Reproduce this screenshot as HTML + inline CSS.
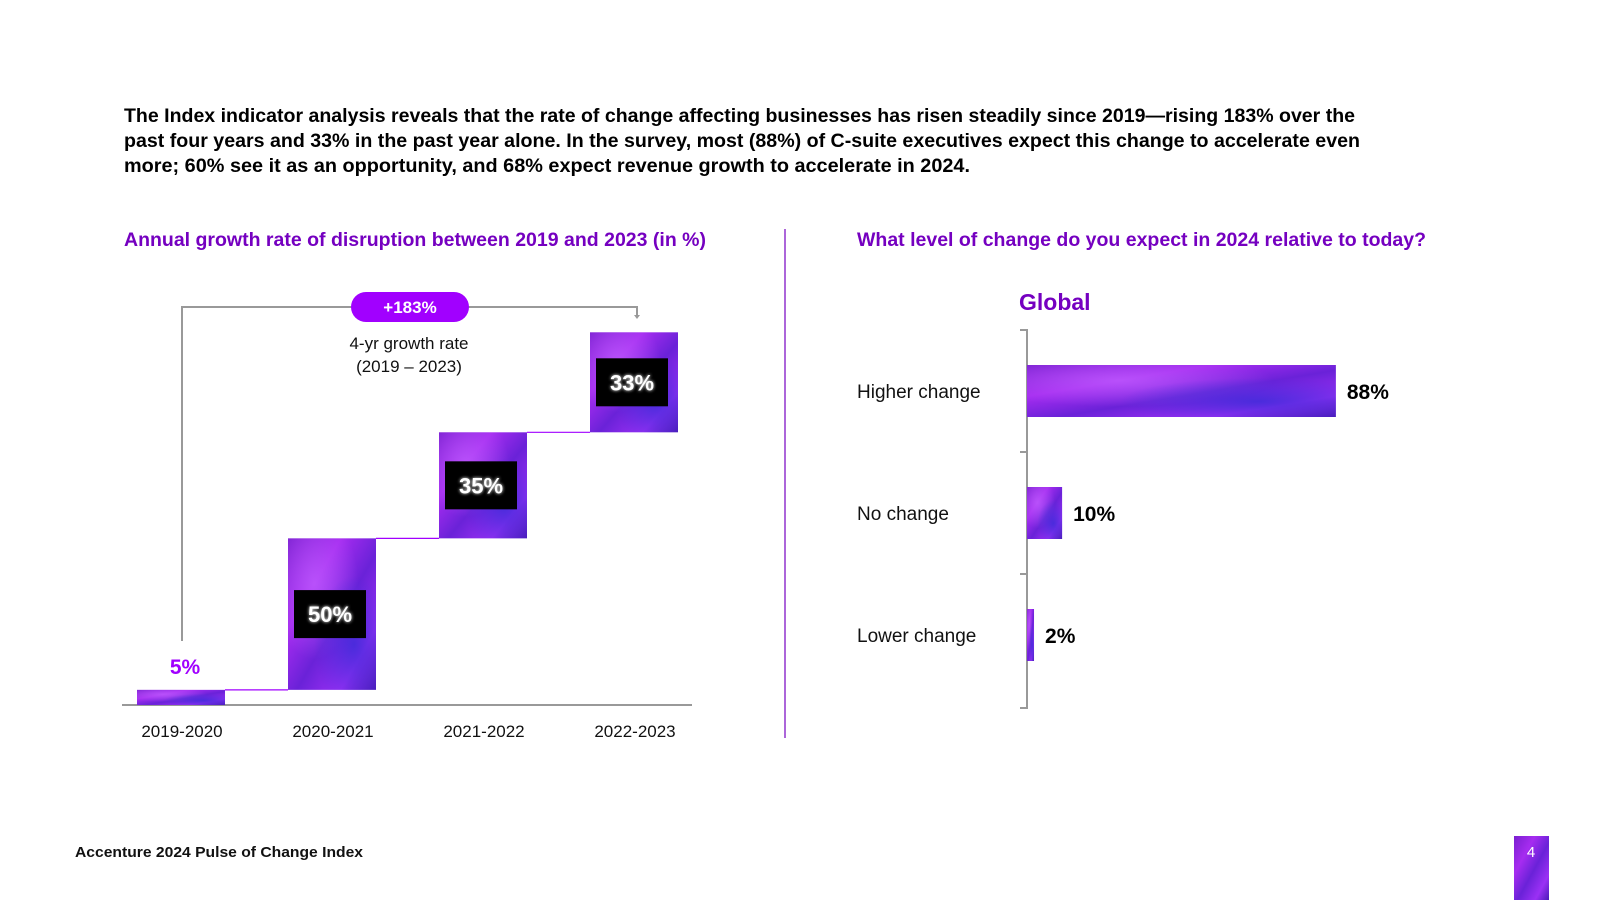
<!DOCTYPE html>
<html><head><meta charset="utf-8"><style>
html,body{margin:0;padding:0;background:#fff;}
svg{display:block;font-family:"Liberation Sans",sans-serif;}
</style></head><body>
<svg id="page" width="1600" height="900" viewBox="0 0 1600 900" xmlns="http://www.w3.org/2000/svg">
<defs>
<linearGradient id="purp" x1="0" y1="0" x2="1" y2="1">
<stop offset="0" stop-color="#7a1fd0"/><stop offset="0.3" stop-color="#a62cf0"/><stop offset="0.55" stop-color="#6a22d8"/><stop offset="0.8" stop-color="#9b30f5"/><stop offset="1" stop-color="#4a1cb8"/>
</linearGradient>
<radialGradient id="blob1" cx="0.3" cy="0.3" r="0.5"><stop offset="0" stop-color="#c060ff" stop-opacity="0.7"/><stop offset="1" stop-color="#c060ff" stop-opacity="0"/></radialGradient>
<radialGradient id="blob2" cx="0.75" cy="0.7" r="0.45"><stop offset="0" stop-color="#3a2bd8" stop-opacity="0.8"/><stop offset="1" stop-color="#3a2bd8" stop-opacity="0"/></radialGradient>
<filter id="glow" x="-30%" y="-30%" width="160%" height="160%"><feGaussianBlur stdDeviation="1.5" result="b"/><feMerge><feMergeNode in="b"/><feMergeNode in="SourceGraphic"/></feMerge></filter>
</defs>

<g font-weight="bold" font-size="19" fill="#000">
<text x="124" y="122" textLength="1231" lengthAdjust="spacingAndGlyphs">The Index indicator analysis reveals that the rate of change affecting businesses has risen steadily since 2019—rising 183% over the</text>
<text x="124" y="147" textLength="1236" lengthAdjust="spacingAndGlyphs">past four years and 33% in the past year alone. In the survey, most (88%) of C-suite executives expect this change to accelerate even</text>
<text x="124" y="172" textLength="846" lengthAdjust="spacingAndGlyphs">more; 60% see it as an opportunity, and 68% expect revenue growth to accelerate in 2024.</text>
</g>

<text x="124" y="246" font-size="19" font-weight="bold" fill="#7500c0" textLength="582" lengthAdjust="spacingAndGlyphs">Annual growth rate of disruption between 2019 and 2023 (in %)</text>
<text x="857" y="246" font-size="19" font-weight="bold" fill="#7500c0" textLength="569" lengthAdjust="spacingAndGlyphs">What level of change do you expect in 2024 relative to today?</text>
<line x1="785" y1="229" x2="785" y2="738" stroke="#7500c0" stroke-width="1.2"/>

<g id="wf"></g>
<g id="hb"></g>

<text x="75" y="857" font-size="15" font-weight="bold" fill="#111" textLength="288" lengthAdjust="spacingAndGlyphs">Accenture 2024 Pulse of Change Index</text>
<rect x="1514" y="836" width="35" height="64" fill="url(#purp)"/>
<text x="1531" y="857" font-size="15" fill="#fff" text-anchor="middle">4</text>
</svg>
<script>
const NS='http://www.w3.org/2000/svg';
const wfCategories=['2019-2020','2020-2021','2021-2022','2022-2023'];
const wfValues=[5,50,35,33];
const wfLabels=['5%','50%','35%','33%'];
const wfTotalLabel='+183%';
const hbCategories=['Higher change','No change','Lower change'];
const hbValues=[88,10,2];
const hbLabels=['88%','10%','2%'];

function mk(tag,attrs,parent){const e=document.createElementNS(NS,tag);for(const k in attrs)e.setAttribute(k,attrs[k]);parent.appendChild(e);return e;}
function fillBar(g,x,y,w,h){
  mk('rect',{x:x,y:y,width:w,height:h,fill:'url(#purp)'},g);
  mk('rect',{x:x,y:y,width:w,height:h,fill:'url(#blob1)'},g);
  mk('rect',{x:x,y:y,width:w,height:h,fill:'url(#blob2)'},g);
}

// Waterfall
const wf=document.getElementById('wf');
const baseY=705, pxPer=3.03, colX0=137, colStep=151, colW=88;
const xw=i=>colX0+i*colStep;
const yv=v=>baseY-v*pxPer;
let ax=mk('line',{x1:122,y1:baseY,x2:692,y2:baseY,stroke:'#999','stroke-width':2},wf);


let cum=0;
wfValues.forEach((v,i)=>{
  const y0=yv(cum), y1=yv(cum+v);
  const g=mk('g',{},wf);
  
  
  fillBar(g,xw(i),y1,colW,y0-y1);
  if(i<wfValues.length-1){
    const c=mk('line',{x1:xw(i)+colW,y1:y1,x2:xw(i+1),y2:y1,stroke:'#a100ff','stroke-width':1.2},wf);
    
    
  }
  if(i===0){
    const t=mk('text',{x:xw(i)+48,y:y1-16,'font-size':21,'font-weight':'bold',fill:'#a100ff','text-anchor':'middle'},wf);
    t.textContent=wfLabels[i];
    
    
  } else {
    const cy=(y0+y1)/2;
    const b=mk('rect',{x:xw(i)+6,y:cy-24,width:72,height:48,fill:'#000'},wf);
    
    
    const t=mk('text',{x:xw(i)+42,y:cy+8,'font-size':22,'font-weight':'bold',fill:'#fff','text-anchor':'middle',filter:'url(#glow)'},wf);
    t.textContent=wfLabels[i];
    
    
  }
  const xl=mk('text',{x:xw(i)+45,y:737,'font-size':17,fill:'#111','text-anchor':'middle'},wf);
  xl.textContent=wfCategories[i];
  
  
  cum+=v;
});
const br=mk('path',{d:'M182 641 V307 H637 V316',fill:'none',stroke:'#999','stroke-width':2},wf);


mk('path',{d:'M634 315 L640 315 L637 319 Z',fill:'#999'},wf);
const pill=mk('rect',{x:351,y:292,width:118,height:30,rx:15,fill:'#a100ff'},wf);


const pt=mk('text',{x:410,y:313,'font-size':17,'font-weight':'bold',fill:'#fff','text-anchor':'middle'},wf);
pt.textContent=wfTotalLabel;


const a1=mk('text',{x:409,y:349,'font-size':17,fill:'#111','text-anchor':'middle'},wf);
a1.textContent='4-yr growth rate';


const a2=mk('text',{x:409,y:372,'font-size':17,fill:'#111','text-anchor':'middle'},wf);
a2.textContent='(2019 – 2023)';



// Horizontal bars
const hb=document.getElementById('hb');
const hx0=1027, hPer=3.51, rowC0=391, rowH=122, barH=52;
const gl=mk('text',{x:1019,y:310,'font-size':23,'font-weight':'bold',fill:'#7500c0'},hb);
gl.textContent='Global';


const axp=mk('path',{d:'M1020 330 H1027 V708 H1020 M1020 452 H1027 M1020 574 H1027',fill:'none',stroke:'#999','stroke-width':2},hb);


hbValues.forEach((v,i)=>{
  const cy=rowC0+rowH*i;
  const g=mk('g',{},hb);
  
  
  fillBar(g,hx0,cy-barH/2,Math.max(v*hPer,3),barH);
  const l=mk('text',{x:857,y:cy+7,'font-size':19,fill:'#111'},hb);
  l.textContent=hbCategories[i];
  
  
  const t=mk('text',{x:hx0+Math.max(v*hPer,3)+11,y:cy+8,'font-size':21,'font-weight':'bold',fill:'#000'},hb);
  t.textContent=hbLabels[i];
  
  
});
</script>
</body></html>
